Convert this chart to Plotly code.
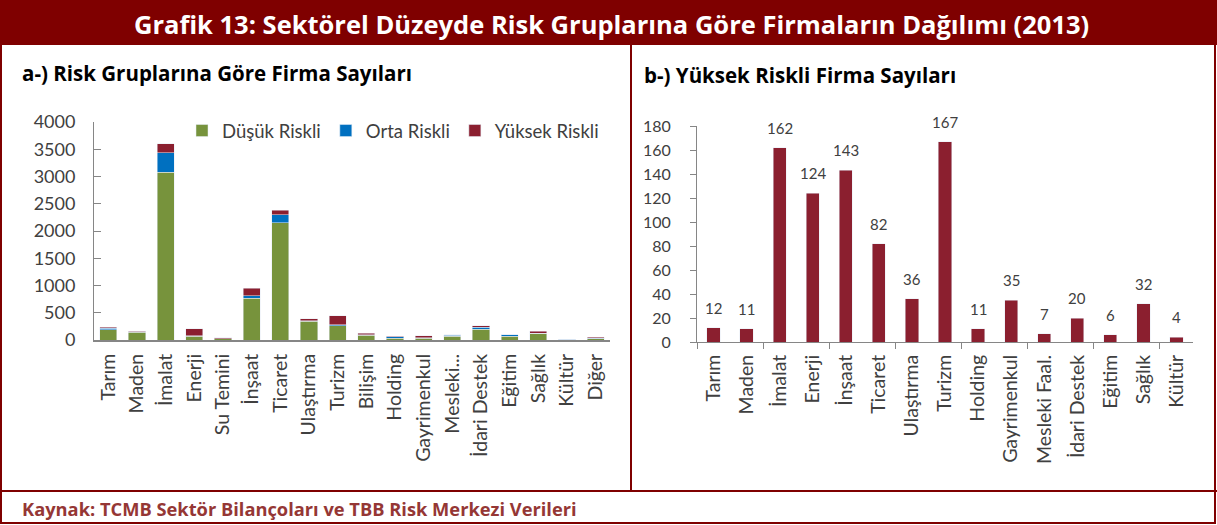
import plotly.graph_objects as go

W, H = 1217, 525

# ---------- data ----------
cats_a = ["Tarım", "Maden", "İmalat", "Enerji", "Su Temini", "İnşaat", "Ticaret",
          "Ulaştırma", "Turizm", "Bilişim", "Holding", "Gayrimenkul", "Mesleki...",
          "İdari Destek", "Eğitim", "Sağlık", "Kültür", "Diğer"]
dusuk = [185, 140, 3080, 70, 20, 765, 2150, 340, 262, 88, 30, 35, 70, 200, 68, 122, 8, 25]
orta = [35, 12, 360, 10, 5, 45, 150, 15, 20, 8, 30, 4, 20, 37, 24, 5, 5, 8]
yuksek = [12, 11, 162, 124, 20, 143, 82, 36, 167, 25, 11, 35, 7, 20, 6, 32, 4, 15]

cats_b = ["Tarım", "Maden", "İmalat", "Enerji", "İnşaat", "Ticaret", "Ulaştırma",
          "Turizm", "Holding", "Gayrimenkul", "Mesleki Faal.", "İdari Destek",
          "Eğitim", "Sağlık", "Kültür"]
yuksek_b = [12, 11, 162, 124, 143, 82, 36, 167, 11, 35, 7, 20, 6, 32, 4]

yticks_a = [0, 500, 1000, 1500, 2000, 2500, 3000, 3500, 4000]
yticks_b = [0, 20, 40, 60, 80, 100, 120, 140, 160, 180]

GREEN = "#77933C"
BLUE = "#0070C0"
RED = "#8B1F2F"
DARK = "#7F0000"
AX = "#868686"
TXT = "#404040"
FONT = "Lato"
HFONT = "Open Sans"


def px(x):
    return x / W


def py(y):
    return 1 - y / H


fig = go.Figure()
fig.add_trace(go.Bar(x=cats_a, y=dusuk, name="Düşük Riskli", marker_color=GREEN,
                     xaxis="x", yaxis="y"))
fig.add_trace(go.Bar(x=cats_a, y=orta, name="Orta Riskli", marker_color=BLUE,
                     xaxis="x", yaxis="y"))
fig.add_trace(go.Bar(x=cats_a, y=yuksek, name="Yüksek Riskli", marker_color=RED,
                     xaxis="x", yaxis="y"))

idx_b = list(range(len(cats_b)))
fig.add_trace(go.Bar(x=idx_b, y=yuksek_b, marker_color=RED, xaxis="x2", yaxis="y2",
                     showlegend=False, width=0.4))

shapes = [
    dict(type="rect", xref="paper", yref="paper", x0=0, x1=1, y0=py(45), y1=1,
         fillcolor=DARK, line_width=0, layer="below"),
    dict(type="rect", xref="paper", yref="paper", x0=px(1), x1=px(1215), y0=py(523), y1=py(1),
         line=dict(color=DARK, width=2), fillcolor="rgba(0,0,0,0)"),
    dict(type="line", xref="paper", yref="paper", x0=px(631), x1=px(631), y0=py(490), y1=py(45),
         line=dict(color=DARK, width=2)),
    dict(type="line", xref="paper", yref="paper", x0=0, x1=1, y0=py(491), y1=py(491),
         line=dict(color=DARK, width=2)),
]

annotations = [
    dict(text="<b>Grafik 13: Sektörel Düzeyde Risk Gruplarına Göre Firmaların Dağılımı (2013)</b>",
         x=px(611), y=py(24), xref="paper", yref="paper", showarrow=False,
         font=dict(family=HFONT, size=25.5, color="white"), xanchor="center", yanchor="middle"),
    dict(text="<b>a-) Risk Gruplarına Göre Firma Sayıları</b>",
         x=px(20), y=py(73), xref="paper", yref="paper", showarrow=False,
         font=dict(family=HFONT, size=20.5, color="black"), xanchor="left", yanchor="middle"),
    dict(text="<b>b-) Yüksek Riskli Firma Sayıları</b>",
         x=px(642), y=py(75), xref="paper", yref="paper", showarrow=False,
         font=dict(family=HFONT, size=20.5, color="black"), xanchor="left", yanchor="middle"),
    dict(text="<b>Kaynak: TCMB Sektör Bilançoları ve TBB Risk Merkezi Verileri</b>",
         x=px(20), y=py(508), xref="paper", yref="paper", showarrow=False,
         font=dict(family=HFONT, size=18.3, color="#953735"), xanchor="left", yanchor="middle"),
]

# data labels of panel b, placed through the axis scales
for i, v in zip(idx_b, yuksek_b):
    annotations.append(dict(text=str(v), x=i, y=v, xref="x2", yref="y2", showarrow=False,
                            xanchor="center", yanchor="middle", yshift=20,
                            font=dict(family=FONT, size=15, color=TXT)))

fig.update_layout(
    width=W, height=H,
    margin=dict(l=0, r=0, t=0, b=0, autoexpand=False),
    paper_bgcolor="white", plot_bgcolor="white",
    barmode="stack", bargap=0.4,
    showlegend=True,
    legend=dict(orientation="h", x=px(182), y=py(112), xanchor="left", yanchor="top",
                font=dict(family=FONT, size=18.5, color=TXT), bgcolor="rgba(0,0,0,0)",
                itemwidth=30, traceorder="normal"),
    xaxis=dict(domain=[px(94), px(610)], anchor="y", type="category", automargin=False,
               showline=True, linecolor=AX, linewidth=2, ticks="", showgrid=False,
               tickangle=-90, ticklabelstandoff=4,
               tickfont=dict(family=FONT, size=19.5, color=TXT)),
    yaxis=dict(domain=[py(340), py(122)], anchor="x", range=[0, 4000], automargin=False,
               tickvals=yticks_a, showline=True, linecolor=AX, linewidth=1,
               ticks="inside", ticklen=7, tickcolor=AX, showgrid=False, zeroline=False,
               ticklabelstandoff=14,
               tickfont=dict(family=FONT, size=18, color=TXT)),
    xaxis2=dict(domain=[px(697), px(1193)], anchor="y2", range=[-0.5, 14.5], automargin=False,
                tickvals=idx_b, ticktext=cats_b, ticks="", showgrid=False, zeroline=False,
                showline=True, linecolor=AX, linewidth=1, ticklabelstandoff=4,
                tickangle=-90, tickfont=dict(family=FONT, size=19.5, color=TXT),
                minor=dict(tickvals=[-0.5, 1.5, 3.5, 5.5, 7.5, 9.5, 11.5, 13.5],
                           ticks="outside", ticklen=6, tickcolor=AX, showgrid=False)),
    yaxis2=dict(domain=[py(342), py(126)], anchor="x2", range=[0, 180], automargin=False,
                tickvals=yticks_b, showline=True, linecolor=AX, linewidth=1,
                ticks="outside", ticklen=6, tickcolor=AX, showgrid=False, zeroline=False,
                ticklabelstandoff=16,
                tickfont=dict(family=FONT, size=16, color=TXT)),
    shapes=shapes,
    annotations=annotations,
)

post = """
document.body.style.margin = '0';
document.body.style.padding = '0';
document.body.style.overflow = 'hidden';
"""

fig.write_html("out.html", post_script=post, config={"displayModeBar": False})
